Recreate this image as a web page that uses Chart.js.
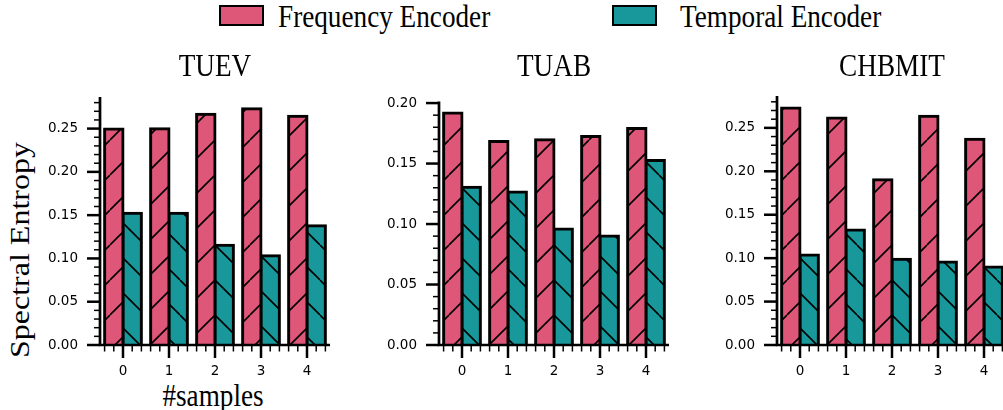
<!DOCTYPE html>
<html lang="en">
<head>
    <meta charset="UTF-8">
    <title>Spectral Entropy</title>
    <script src="https://cdn.jsdelivr.net/npm/chart.js"></script>
    <style>
        html, body { margin: 0; padding: 0; background: #fff; overflow: hidden; }
        body { width: 1003px; height: 410px; position: relative; }
        canvas { position: absolute; top: 0; }
        .serif {
            position: absolute;
            font-family: 'Liberation Serif', 'Times New Roman', serif;
            font-size: 32px;
            line-height: 32px;
            white-space: nowrap;
            color: #000;
        }
        .centered { transform: translateX(-50%) scaleX(0.85); }
        .legend-box { position: absolute; width: 45px; height: 21px; border: 2px solid #000; box-sizing: border-box; }
        .legend-text { transform-origin: left center; transform: scaleX(0.85); }
        .ylab { transform: translate(-50%, -50%) scaleX(0.85) rotate(-90deg); }
    </style>
</head>
<body>
    <div class="legend-box" style="left:219px; top:5px; background:#DE5678"></div>
    <div class="serif legend-text" style="left:278px; top:0px">Frequency Encoder</div>
    <div class="legend-box" style="left:612px; top:5px; background:#18989A"></div>
    <div class="serif legend-text" style="left:680px; top:0px">Temporal Encoder</div>

    <div class="serif ylab" style="left:20px; top:250px">Spectral Entropy</div>
    <div class="serif centered" style="left:213px; top:379px">#samples</div>
</body>
</html>

<script>
    // valores
    const samples = ['0', '1', '2', '3', '4'];
    const datasetNames = ['TUEV', 'TUAB', 'CHBMIT'];

    const tuevFreq = [0.2494, 0.2498, 0.2667, 0.2729, 0.2644];
    const tuevTemp = [0.1521, 0.1521, 0.1151, 0.1031, 0.1378];

    const tuabFreq = [0.1917, 0.1682, 0.1696, 0.1724, 0.1790];
    const tuabTemp = [0.1305, 0.1264, 0.0958, 0.0902, 0.1526];

    const chbmitFreq = [0.2730, 0.2614, 0.1903, 0.2633, 0.2370];
    const chbmitTemp = [0.1036, 0.1323, 0.0986, 0.0955, 0.0897];

    const freqSeries = [tuevFreq, tuabFreq, chbmitFreq];
    const tempSeries = [tuevTemp, tuabTemp, chbmitTemp];

    // layout dos três painéis
    const panelLeft = [100, 439, 777];
    const panelTop = [97, 101.5, 96];
    const panelYMax = [0.2865, 0.2013, 0.2867];
    const padLeft = 60;
    const plotWidth = 230;
    const plotBottom = 345;

    const pink = '#DE5678';
    const teal = '#18989A';
    const tickFont = { family: "'DejaVu Sans', sans-serif", size: 13.5 };

    function hatch(color, dir) {
        const s = 35;
        const c = document.createElement('canvas');
        c.width = s;
        c.height = s;
        const g = c.getContext('2d');
        g.fillStyle = color;
        g.fillRect(0, 0, s, s);
        g.strokeStyle = '#000';
        g.lineWidth = 1.6;
        g.beginPath();
        for (const o of [-s, 0, s]) {
            if (dir === '/') {
                g.moveTo(o, s);
                g.lineTo(o + s, 0);
            } else {
                g.moveTo(o, 0);
                g.lineTo(o + s, s);
            }
        }
        g.stroke();
        return g.createPattern(c, 'repeat');
    }

    const mplAxes = {
        id: 'mplAxes',
        afterDatasetsDraw(chart) {
            const { ctx, chartArea: a, scales } = chart;
            const x = scales.x, y = scales.y;
            ctx.save();
            ctx.strokeStyle = '#000';
            // y ticks (major 0.05, minor 0.01)
            const n = Math.floor(y.max / 0.01 + 1e-6);
            for (let i = 0; i <= n; i++) {
                const py = y.getPixelForValue(i * 0.01);
                const major = i % 5 === 0;
                ctx.lineWidth = major ? 2.5 : 1.5;
                ctx.beginPath();
                ctx.moveTo(a.left - (major ? 13 : 6), py);
                ctx.lineTo(a.left, py);
                ctx.stroke();
            }
            // x ticks (major 1, minor 0.2)
            for (let i = -2; i <= 22; i++) {
                const px = x.getPixelForValue(i * 0.2);
                const major = i % 5 === 0;
                ctx.lineWidth = major ? 2.5 : 1.5;
                ctx.beginPath();
                ctx.moveTo(px, a.bottom);
                ctx.lineTo(px, a.bottom + (major ? 13 : 6.5));
                ctx.stroke();
            }
            // spines
            ctx.lineWidth = 2.7;
            ctx.beginPath();
            ctx.moveTo(a.left, a.bottom + 1.35);
            ctx.lineTo(a.left, a.top);
            ctx.moveTo(a.left - 1.35, a.bottom);
            ctx.lineTo(a.right, a.bottom);
            ctx.stroke();
            ctx.restore();
        }
    };

    datasetNames.forEach((nome, k) => {
        const canvas = document.createElement('canvas');
        canvas.width = padLeft + plotWidth + 10;
        canvas.height = 410;
        canvas.style.left = (panelLeft[k] - padLeft) + 'px';
        document.body.appendChild(canvas);

        const titulo = document.createElement('div');
        titulo.className = 'serif centered';
        titulo.style.left = (panelLeft[k] + plotWidth / 2) + 'px';
        titulo.style.top = '49px';
        titulo.textContent = nome;
        document.body.appendChild(titulo);

        new Chart(canvas, {
            type: 'bar',
            data: {
                labels: samples,
                datasets: [{
                    label: 'Frequency Encoder',
                    data: freqSeries[k],
                    backgroundColor: hatch(pink, '/'),
                    borderColor: '#000',
                    borderWidth: 3,
                    inflateAmount: 1.5,
                    barPercentage: 1,
                    categoryPercentage: 0.8
                }, {
                    label: 'Temporal Encoder',
                    data: tempSeries[k],
                    backgroundColor: hatch(teal, '\\'),
                    borderColor: '#000',
                    borderWidth: 3,
                    inflateAmount: 1.5,
                    barPercentage: 1,
                    categoryPercentage: 0.8
                }]
            },
            options: {
                responsive: false,
                devicePixelRatio: 1,
                animation: false,
                layout: { padding: { top: panelTop[k], right: 10, left: 0, bottom: 0 } },
                plugins: {
                    legend: { display: false },
                    tooltip: { enabled: false },
                    title: { display: false }
                },
                scales: {
                    x: {
                        offset: true,
                        grid: { display: false, drawTicks: false },
                        border: { display: false },
                        ticks: { color: '#000', padding: 18, font: tickFont },
                        afterFit(scale) { scale.height = 410 - plotBottom; }
                    },
                    y: {
                        min: 0,
                        max: panelYMax[k],
                        grid: { display: false, drawTicks: false },
                        border: { display: false },
                        ticks: {
                            color: '#000',
                            padding: 22,
                            font: tickFont,
                            callback: v => v.toFixed(2)
                        },
                        afterBuildTicks(scale) {
                            const ticks = [];
                            for (let i = 0; i * 0.05 <= scale.max + 1e-9; i++) {
                                ticks.push({ value: i * 0.05 });
                            }
                            scale.ticks = ticks;
                        },
                        afterFit(scale) { scale.width = padLeft; }
                    }
                }
            },
            plugins: [mplAxes]
        });
    });
</script>
